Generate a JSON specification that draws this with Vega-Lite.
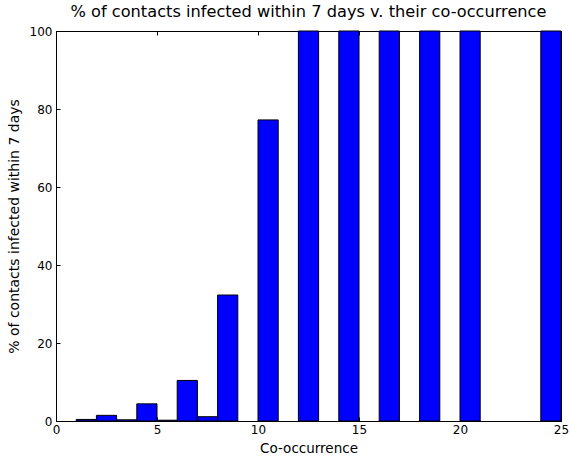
{
  "$schema": "https://vega.github.io/schema/vega-lite/v6.json",
  "width": 505,
  "height": 390,
  "autosize": {"type": "none"},
  "padding": {"left": 56, "top": 31, "right": 8, "bottom": 36},
  "title": {"text": "% of contacts infected within 7 days v. their co-occurrence", "font": "DejaVu Sans", "fontSize": 16.2, "fontWeight": "normal", "color": "black", "offset": 5},
  "config": {
    "view": {"stroke": "black", "strokeWidth": 1},
    "axis": {"labelFont": "DejaVu Sans", "titleFont": "DejaVu Sans", "labelFontSize": 12, "titleFontSize": 14, "titleFontWeight": "normal", "labelColor": "black", "titleColor": "black", "domainColor": "black", "tickColor": "black", "grid": false, "tickSize": -4, "labelFlush": false}
  },
  "data": {"values": [
    {"lo": 1, "hi": 2, "pct": 0.4},
    {"lo": 2, "hi": 3, "pct": 1.45},
    {"lo": 3, "hi": 4, "pct": 0.3},
    {"lo": 4, "hi": 5, "pct": 4.4},
    {"lo": 5, "hi": 6, "pct": 0.2},
    {"lo": 6, "hi": 7, "pct": 10.4},
    {"lo": 7, "hi": 8, "pct": 1.1},
    {"lo": 8, "hi": 9, "pct": 32.3},
    {"lo": 10, "hi": 11, "pct": 77.2},
    {"lo": 12, "hi": 13, "pct": 100},
    {"lo": 14, "hi": 15, "pct": 100},
    {"lo": 16, "hi": 17, "pct": 100},
    {"lo": 18, "hi": 19, "pct": 100},
    {"lo": 20, "hi": 21, "pct": 100},
    {"lo": 24, "hi": 25, "pct": 100}
  ]},
  "resolve": {"axis": {"x": "independent", "y": "independent"}},
  "layer": [
    {
      "mark": {"type": "bar", "fill": "#0000ff", "stroke": "black", "strokeWidth": 1},
      "encoding": {
        "x": {"field": "lo", "type": "quantitative", "scale": {"domain": [0, 25], "nice": false, "zero": false}, "axis": {"values": [0, 5, 10, 15, 20, 25], "title": "Co-occurrence", "titleFontSize": 13.5, "labelPadding": 7, "titlePadding": 6}},
        "x2": {"field": "hi"},
        "y": {"field": "pct", "type": "quantitative", "scale": {"domain": [0, 100], "nice": false}, "axis": {"values": [0, 20, 40, 60, 80, 100], "title": "% of contacts infected within 7 days", "labelPadding": 8, "titlePadding": 8}},
        "y2": {"datum": 0}
      }
    },
    {
      "mark": {"type": "point", "opacity": 0},
      "encoding": {
        "x": {"field": "lo", "type": "quantitative", "axis": {"orient": "top", "values": [0, 5, 10, 15, 20, 25], "labels": false, "title": null}},
        "y": {"field": "pct", "type": "quantitative", "axis": {"orient": "right", "values": [0, 20, 40, 60, 80, 100], "labels": false, "title": null}}
      }
    }
  ]
}
